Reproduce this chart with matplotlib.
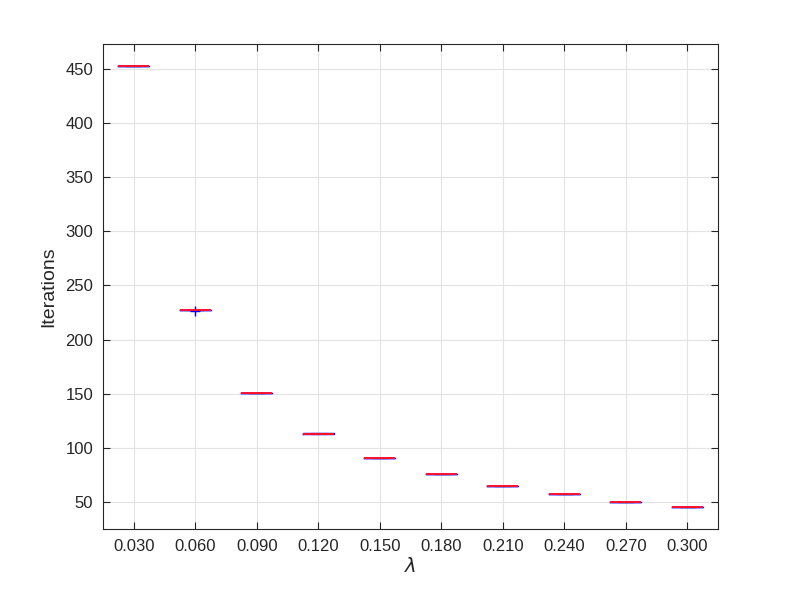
import matplotlib
matplotlib.use('Agg')
import matplotlib.pyplot as plt

plt.rcParams['font.family'] = ['Liberation Sans', 'DejaVu Sans']

# lambda values and iteration counts per run
lambdas = ['0.030', '0.060', '0.090', '0.120', '0.150',
           '0.180', '0.210', '0.240', '0.270', '0.300']
it_030 = [453, 453, 453, 453, 453]
it_060 = [227, 227, 227, 227, 227, 226]
it_090 = [151, 151, 151, 151, 151]
it_120 = [113, 113, 113, 114, 114]
it_150 = [91, 91, 91, 91, 91]
it_180 = [76, 76, 76, 76, 76]
it_210 = [65, 65, 65, 65, 65]
it_240 = [57, 57, 57, 57, 57]
it_270 = [50, 50, 50, 50, 50]
it_300 = [45, 45, 45, 45, 45]
data = [it_030, it_060, it_090, it_120, it_150,
        it_180, it_210, it_240, it_270, it_300]

fig = plt.figure(figsize=(7.93, 5.95), dpi=100)
ax = fig.add_axes([103/793, 1 - 529/595, 615/793, 485/595])

ax.boxplot(data, widths=0.5,
           boxprops=dict(color='blue', linewidth=1, zorder=2),
           medianprops=dict(color='#ff1030', linewidth=1.4, zorder=3),
           whiskerprops=dict(color='black', linestyle='--', linewidth=0.8),
           capprops=dict(color='black', linewidth=0.8),
           flierprops=dict(marker='+', markeredgecolor='blue', markersize=7))

ax.set_xticks(range(1, len(lambdas) + 1))
ax.set_xticklabels(lambdas)
ax.set_xlim(0.5, 10.5)
ax.set_ylim(25, 473)
ax.set_yticks(range(50, 451, 50))

ax.grid(True, color='#e3e3e3', linewidth=0.8)
ax.set_axisbelow(True)
ax.tick_params(direction='in', labelsize=12, colors='#262626', length=5,
               pad=7, top=True, right=True)
for s in ax.spines.values():
    s.set_color('#262626')
    s.set_linewidth(0.8)

ax.set_ylabel('Iterations', fontsize=14, color='#262626', labelpad=6)
ax.set_xlabel(r'$\lambda$', fontsize=14, color='#262626', labelpad=2)

fig.savefig('out.png', dpi=100)
